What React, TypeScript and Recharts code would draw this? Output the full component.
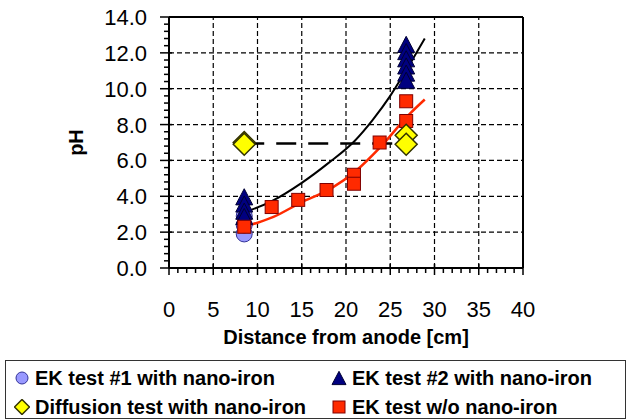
import React from 'react';
import {
    ComposedChart,
    Scatter,
    Line,
    XAxis,
    YAxis,
    ReferenceLine,
    Legend,
} from 'recharts';

const ek1Points = [
    { x: 8.5, y: 1.9 },
    { x: 8.5, y: 2.4 },
    { x: 8.5, y: 2.9 },
];

const ek2Points = [
    { x: 8.5, y: 3.9 },
    { x: 8.5, y: 3.5 },
    { x: 8.5, y: 3.1 },
    { x: 8.5, y: 2.8 },
    { x: 26.8, y: 12.4 },
    { x: 26.8, y: 12.0 },
    { x: 26.8, y: 11.6 },
    { x: 26.8, y: 11.2 },
    { x: 26.8, y: 10.8 },
    { x: 26.8, y: 10.4 },
];

const noIronPoints = [
    { x: 8.5, y: 2.3 },
    { x: 11.6, y: 3.4 },
    { x: 14.6, y: 3.8 },
    { x: 17.8, y: 4.35 },
    { x: 20.9, y: 5.2 },
    { x: 20.9, y: 4.7 },
    { x: 23.8, y: 7.0 },
    { x: 26.8, y: 9.3 },
    { x: 26.8, y: 8.2 },
    { x: 26.8, y: 7.2 },
];

const diffusionPoints = [
    { x: 8.5, y: 7.0 },
    { x: 8.5, y: 6.9 },
    { x: 26.8, y: 7.4 },
    { x: 26.8, y: 6.9 },
];

// dashed link between the diffusion test groups
const diffusionLink = [
    { x: 8.5, y: 6.95 },
    { x: 26.8, y: 6.95 },
];

// trend curves
const ek2Trend = [
    { x: 8.5, y: 3.1 },
    { x: 11.5, y: 3.7 },
    { x: 15, y: 4.75 },
    { x: 18, y: 5.85 },
    { x: 21, y: 7.1 },
    { x: 23, y: 8.25 },
    { x: 25, y: 9.6 },
    { x: 27, y: 11.2 },
    { x: 28.9, y: 12.8 },
];

const noIronTrend = [
    { x: 8.5, y: 2.3 },
    { x: 11.8, y: 2.85 },
    { x: 15.1, y: 3.7 },
    { x: 18.2, y: 4.4 },
    { x: 21.2, y: 5.45 },
    { x: 23.8, y: 6.7 },
    { x: 27.2, y: 8.6 },
    { x: 28.9, y: 9.4 },
];

const xGrid = [5, 10, 15, 20, 25, 30, 35];
const yGrid = [2, 4, 6, 8, 10, 12];
const xTicks = Array.from({ length: 41 }, (_, i) => i);
const yTicks = Array.from({ length: 36 }, (_, i) => Math.round(i * 4) / 10);

const FONT = '"Liberation Sans", Arial, sans-serif';

const colors = {
    ek1: '#9999ff',
    ek1Stroke: '#333399',
    ek2: '#000080',
    ek2Stroke: '#000033',
    diffusion: '#ffff00',
    diffusionStroke: '#333300',
    noIron: '#ff2a00',
    noIronStroke: '#800000',
};

const CircleMark = ({ cx, cy, r = 8 }: any) => (
    <circle cx={cx} cy={cy} r={r} fill={colors.ek1} stroke={colors.ek1Stroke} strokeWidth={1} />
);

const TriangleMark = ({ cx, cy, s = 17 }: any) => (
    <polygon
        points={`${cx},${cy - s * 0.55} ${cx + s / 2},${cy + s * 0.4} ${cx - s / 2},${cy + s * 0.4}`}
        fill={colors.ek2}
        stroke={colors.ek2Stroke}
        strokeWidth={1}
    />
);

const SquareMark = ({ cx, cy, s = 13 }: any) => (
    <rect x={cx - s / 2} y={cy - s / 2} width={s} height={s} fill={colors.noIron} stroke={colors.noIronStroke} strokeWidth={1} />
);

const DiamondMark = ({ cx, cy, s = 22 }: any) => (
    <polygon
        points={`${cx},${cy - s / 2} ${cx + s / 2},${cy} ${cx},${cy + s / 2} ${cx - s / 2},${cy}`}
        fill={colors.diffusion}
        stroke={colors.diffusionStroke}
        strokeWidth={1.5}
    />
);

const XTick = ({ x, y, payload }: any) => {
    const major = payload.value % 5 === 0;
    return (
        <g>
            <line x1={x} x2={x} y1={major ? y - 4 : y} y2={major ? y + 7 : y + 5} stroke="#000" strokeWidth={1.5} />
            {major && (
                <text x={x} y={y + 49} textAnchor="middle" fontSize={22} fontFamily={FONT} fill="#000">
                    {payload.value}
                </text>
            )}
        </g>
    );
};

const YTick = ({ x, y, payload }: any) => {
    const major = payload.value % 2 === 0;
    return (
        <g>
            <line x1={major ? x - 9 : x - 5} x2={major ? x + 3 : x} y1={y} y2={y} stroke="#000" strokeWidth={1.5} />
            {major && (
                <text x={x - 22} y={y + 8} textAnchor="end" fontSize={22} fontFamily={FONT} fill="#000">
                    {payload.value.toFixed(1)}
                </text>
            )}
        </g>
    );
};

const legendItems = [
    { label: 'EK test #1 with nano-iron', mark: 'circle', left: 16, top: 17 },
    { label: 'EK test #2 with nano-iron', mark: 'triangle', left: 333, top: 17 },
    { label: 'Diffusion test with nano-iron', mark: 'diamond', left: 16, top: 46 },
    { label: 'EK test w/o nano-iron', mark: 'square', left: 333, top: 46 },
];

const LegendMark = ({ mark }: { mark: string }) => (
    <svg width={16} height={16} style={{ position: 'absolute', left: -8, top: -8 }}>
        {mark === 'circle' && <CircleMark cx={8} cy={8} r={6} />}
        {mark === 'triangle' && <TriangleMark cx={8} cy={9} s={14} />}
        {mark === 'diamond' && <DiamondMark cx={8} cy={8} s={15} />}
        {mark === 'square' && <SquareMark cx={8} cy={8} s={12} />}
    </svg>
);

const LegendBox = () => (
    <div
        style={{
            position: 'relative',
            width: 619,
            height: 57,
            border: '1px solid #333',
            fontFamily: FONT,
            fontWeight: 'bold',
            fontSize: 20,
            background: '#fff',
        }}
    >
        {legendItems.map((item) => (
            <div key={item.label} style={{ position: 'absolute', left: item.left, top: item.top }}>
                <LegendMark mark={item.mark} />
                <span style={{ position: 'absolute', left: 13, top: -12, whiteSpace: 'nowrap', lineHeight: '24px' }}>
                    {item.label}
                </span>
            </div>
        ))}
    </div>
);

export default function App() {
    return (
        <div style={{ position: 'absolute', left: 0, top: 0, width: 631, height: 420, background: '#fff' }}>
            <ComposedChart width={631} height={420} margin={{ top: 17, right: 108, bottom: 72, left: 0 }}>
                <XAxis
                    dataKey="x"
                    type="number"
                    domain={[0, 40]}
                    ticks={xTicks}
                    interval={0}
                    height={80}
                    tickSize={0}
                    tickMargin={0}
                    tickLine={false}
                    tick={<XTick />}
                    axisLine={{ stroke: '#000', strokeWidth: 2 }}
                    label={{
                        value: 'Distance from anode [cm]',
                        position: 'insideTop',
                        offset: 62,
                        style: { fontFamily: FONT, fontWeight: 'bold', fontSize: 20, fill: '#000' },
                    }}
                />
                <YAxis
                    dataKey="y"
                    type="number"
                    domain={[0, 14]}
                    ticks={yTicks}
                    interval={0}
                    width={169}
                    tickSize={0}
                    tickMargin={0}
                    tickLine={false}
                    tick={<YTick />}
                    axisLine={{ stroke: '#000', strokeWidth: 2 }}
                    label={{
                        value: 'pH',
                        angle: -90,
                        position: 'center',
                        dx: -9,
                        style: { fontFamily: FONT, fontWeight: 'bold', fontSize: 20, fill: '#000' },
                    }}
                />
                {xGrid.map((v) => (
                    <ReferenceLine key={'gx' + v} x={v} stroke="#000" strokeWidth={1.2} strokeDasharray="5 3" />
                ))}
                {yGrid.map((v) => (
                    <ReferenceLine key={'gy' + v} y={v} stroke="#000" strokeWidth={1.2} strokeDasharray="5 3" />
                ))}
                <ReferenceLine y={14} stroke="#000" strokeWidth={2} />
                <ReferenceLine x={40} stroke="#000" strokeWidth={2} />

                <Scatter name="EK test #1 with nano-iron" data={ek1Points} shape={<CircleMark />} isAnimationActive={false} />
                <Scatter name="EK test #2 with nano-iron" data={ek2Points} shape={<TriangleMark />} isAnimationActive={false} />
                <Scatter name="EK test w/o nano-iron" data={noIronPoints} shape={<SquareMark />} isAnimationActive={false} />
                <Scatter name="Diffusion test with nano-iron" data={diffusionPoints} shape={<DiamondMark />} isAnimationActive={false} />

                <Line
                    data={diffusionLink}
                    dataKey="y"
                    type="linear"
                    stroke="#000"
                    strokeWidth={2.5}
                    strokeDasharray="20 12"
                    dot={false}
                    activeDot={false}
                    legendType="none"
                    isAnimationActive={false}
                />
                <Line
                    data={noIronTrend}
                    dataKey="y"
                    type="monotone"
                    stroke="#ff2a00"
                    strokeWidth={2.5}
                    dot={false}
                    activeDot={false}
                    legendType="none"
                    isAnimationActive={false}
                />
                <Line
                    data={ek2Trend}
                    dataKey="y"
                    type="monotone"
                    stroke="#000"
                    strokeWidth={2}
                    dot={false}
                    activeDot={false}
                    legendType="none"
                    isAnimationActive={false}
                />
                <Legend
                    layout="vertical"
                    align="center"
                    verticalAlign="middle"
                    wrapperStyle={{ left: 5, top: 360, width: 621, height: 59 }}
                    content={() => <LegendBox />}
                />
            </ComposedChart>
        </div>
    );
}
